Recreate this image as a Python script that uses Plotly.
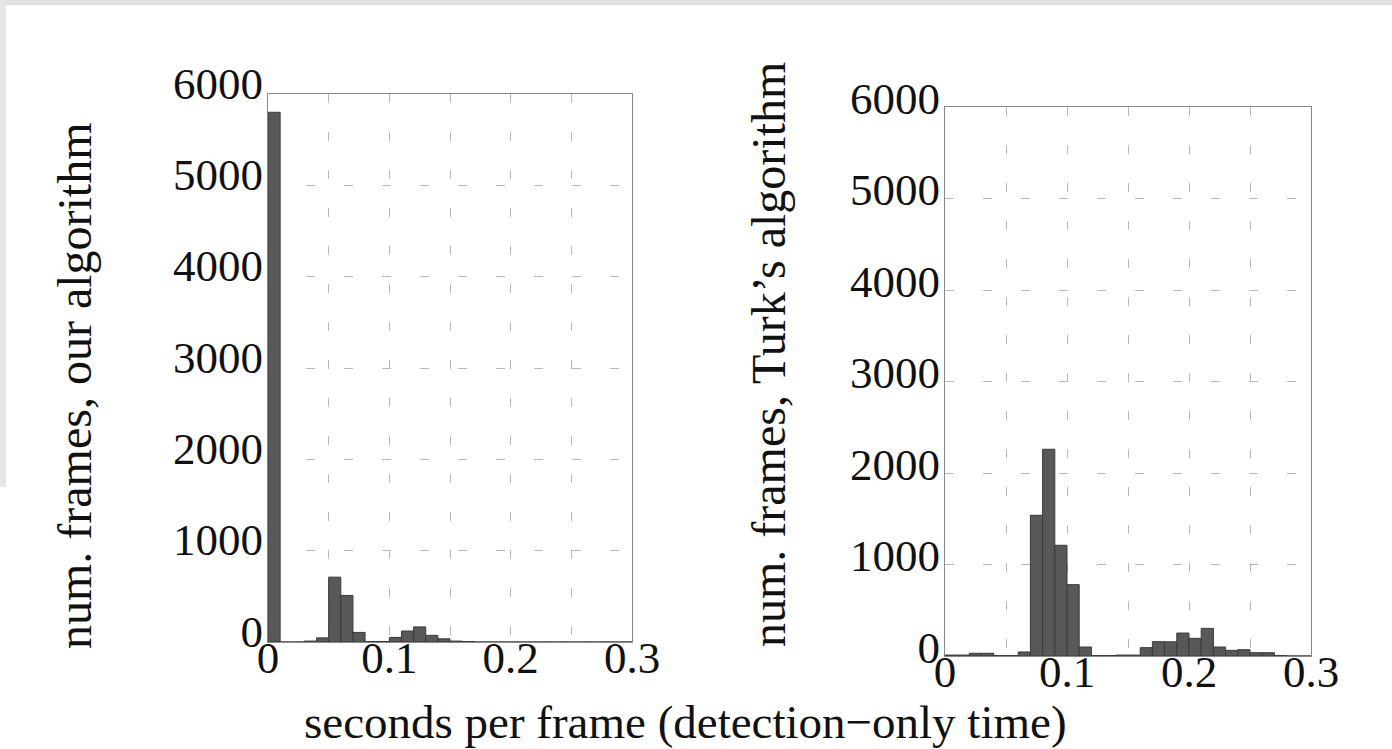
import plotly.graph_objects as go

# Histogram bins (left edges, seconds), width 0.01
bin_left = [0.00, 0.01, 0.02, 0.03, 0.04, 0.05, 0.06, 0.07, 0.08, 0.09,
            0.10, 0.11, 0.12, 0.13, 0.14, 0.15, 0.16, 0.17, 0.18, 0.19,
            0.20, 0.21, 0.22, 0.23, 0.24, 0.25, 0.26, 0.27, 0.28, 0.29]
bin_width = 0.01

ours_counts = [5800, 0, 0, 10, 45, 710, 510, 105, 5, 5,
               50, 120, 165, 73, 35, 10, 5, 0, 0, 0,
               0, 0, 0, 0, 0, 0, 0, 0, 0, 0]

turk_counts = [10, 10, 30, 30, 5, 5, 44, 1538, 2259, 1210,
               780, 98, 5, 5, 10, 10, 91, 157, 155, 251,
               193, 302, 98, 62, 69, 36, 36, 5, 0, 0]

x_tickvals = [0, 0.05, 0.1, 0.15, 0.2, 0.25, 0.3]
x_ticktext = ["0", "", "0.1", "", "0.2", "", "0.3"]
y_tickvals = [0, 1000, 2000, 3000, 4000, 5000, 6000]
y_ticktext = ["0", "1000", "2000", "3000", "4000", "5000", "6000"]

ytitle_left = "num. frames, our algorithm"
ytitle_right = "num. frames, Turk’s algorithm"
xtitle = "seconds per frame (detection−only time)"

FONT = "Liberation Serif"
FS_TICK = 45
FS_TITLE = 48
BAR_FILL = "#585858"
BAR_LINE = "#3a3a3a"
GRID = "#b8b8b8"
FRAME = "#8a8a8a"

W, H = 1392, 749

fig = go.Figure()
fig.add_trace(go.Bar(x=bin_left, y=ours_counts, width=bin_width, offset=0,
                     marker=dict(color=BAR_FILL, line=dict(color=BAR_LINE, width=1)),
                     xaxis="x", yaxis="y", showlegend=False, hoverinfo="skip"))
fig.add_trace(go.Bar(x=bin_left, y=turk_counts, width=bin_width, offset=0,
                     marker=dict(color=BAR_FILL, line=dict(color=BAR_LINE, width=1)),
                     xaxis="x2", yaxis="y2", showlegend=False, hoverinfo="skip"))

def xax(domain, anchor):
    return dict(domain=domain, anchor=anchor, range=[0, 0.3],
                tickmode="array", tickvals=x_tickvals, ticktext=x_ticktext,
                showgrid=True, gridcolor=GRID, griddash="9px,29px", gridwidth=1,
                showline=True, mirror=True, linecolor=FRAME, linewidth=1,
                ticks="", zeroline=False, ticklabelstandoff=-24, automargin=False,
                tickfont=dict(family=FONT, size=FS_TICK, color="#111"))

def yax(domain, anchor, shift):
    return dict(domain=domain, anchor=anchor, range=[0, 6000],
                tickmode="array", tickvals=y_tickvals, ticktext=y_ticktext,
                showgrid=True, gridcolor=GRID, griddash="9px,29px", gridwidth=1,
                showline=True, mirror=True, linecolor=FRAME, linewidth=1,
                ticks="", zeroline=False, ticklabelstandoff=-5, ticklabelshift=shift,
                automargin=False,
                tickfont=dict(family=FONT, size=FS_TICK, color="#111"))

fig.update_layout(
    width=W, height=H,
    margin=dict(l=0, r=0, t=0, b=0, pad=0, autoexpand=False),
    paper_bgcolor="white", plot_bgcolor="white",
    bargap=0,
    xaxis=xax([268 / W, 632 / W], "y"),
    yaxis=yax([1 - 642 / H, 1 - 94 / H], "x", -11),
    xaxis2=xax([945 / W, 1311 / W], "y2"),
    yaxis2=yax([1 - 656 / H, 1 - 107 / H], "x2", -9),
    font=dict(family=FONT, size=FS_TICK, color="#111"),
)

fig.add_annotation(text=ytitle_left, xref="paper", yref="paper",
                   x=74 / W, y=1 - 386 / H, textangle=-90, showarrow=False,
                   xanchor="center", yanchor="middle",
                   font=dict(family=FONT, size=FS_TITLE, color="#111"))
fig.add_annotation(text=ytitle_right, xref="paper", yref="paper",
                   x=768 / W, y=1 - 355 / H, textangle=-90, showarrow=False,
                   xanchor="center", yanchor="middle",
                   font=dict(family=FONT, size=FS_TITLE, color="#111"))
fig.add_annotation(text=xtitle, xref="paper", yref="paper",
                   x=685 / W, y=1 - 722 / H, showarrow=False,
                   xanchor="center", yanchor="middle",
                   font=dict(family=FONT, size=47, color="#111"))

# light gray page border at top and left
fig.add_shape(type="rect", xref="paper", yref="paper", x0=0, x1=1,
              y0=1 - 5 / H, y1=1, fillcolor="#e1e1e1", line_width=0, layer="below")
fig.add_shape(type="rect", xref="paper", yref="paper", x0=0, x1=6 / W,
              y0=0.35, y1=1, fillcolor="#e6e6e6", line_width=0, layer="below")

fig.write_html("out.html", config={"displayModeBar": False, "staticPlot": True},
               post_script="document.body.style.margin='0px';")
